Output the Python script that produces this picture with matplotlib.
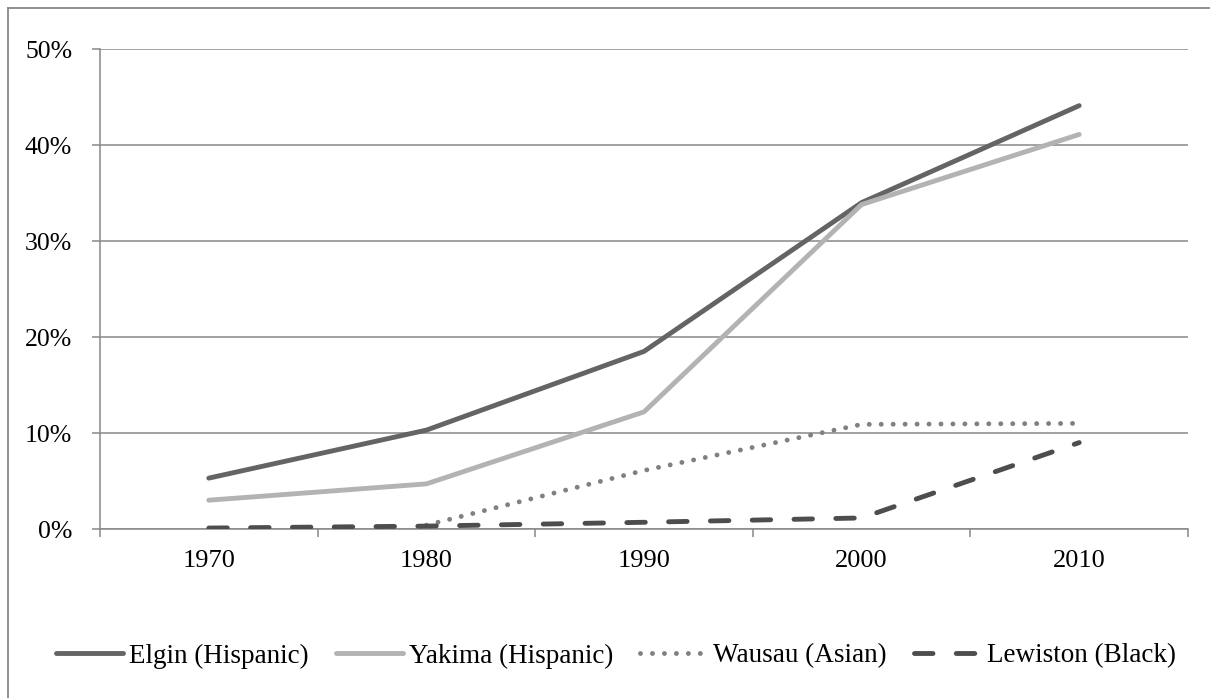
import matplotlib
matplotlib.use("Agg")
import matplotlib.pyplot as plt
import numpy as np
from matplotlib.lines import Line2D

years = ["1970", "1980", "1990", "2000", "2010"]
elgin = [5.3, 10.3, 18.5, 34.0, 44.1]
yakima = [3.0, 4.7, 12.2, 33.8, 41.1]
wausau = [np.nan, 0.4, 6.1, 10.9, 11.0]
lewiston = [0.1, 0.3, 0.7, 1.15, 9.0]
labels = ["Elgin (Hispanic)", "Yakima (Hispanic)", "Wausau (Asian)", "Lewiston (Black)"]
yticks = [0, 10, 20, 30, 40, 50]

plt.rcParams['font.family'] = ['Liberation Serif', 'DejaVu Serif']
fs_y = 18.5
fs_x = 19.0
fs_leg = 19.5
W, H = 1210, 698
fig = plt.figure(figsize=(W / 100, H / 100), dpi=100)
ax = fig.add_axes([100 / W, 1 - 529 / H, (1188 - 100) / W, (529 - 49) / H])

x = np.arange(len(years))
lw = 3.5
ax.plot(x, elgin, color="#646464", lw=lw, solid_capstyle="round", label=labels[0], zorder=3)
ax.plot(x, yakima, color="#b3b3b3", lw=lw, solid_capstyle="round", label=labels[1], zorder=3)
ax.plot(x, wausau, color="#808080", lw=lw, linestyle=(0, (0.01, 2.45)), dash_capstyle="round",
        label=labels[2], zorder=3)
ax.plot(x, lewiston, color="#4d4d4d", lw=lw, linestyle=(0, (3.8, 4.8)), dash_capstyle="round",
        label=labels[3], zorder=3)

ax.set_xlim(-0.5, len(years) - 0.5)
ax.set_ylim(0, 50)
ax.set_yticks(yticks)
ax.set_yticklabels([f"{v}%" for v in yticks], fontsize=fs_y)
ax.set_xticks(np.arange(-0.5, len(years), 1.0))
ax.set_xticklabels([])
ax.set_xticks(x, minor=True)
ax.set_xticklabels(years, minor=True, fontsize=fs_x)
ax.tick_params(axis="x", which="minor", length=0, pad=15)
ax.tick_params(axis="x", which="major", length=6, width=1.1, color="#888888", direction="out")
ax.tick_params(axis="y", length=6, width=1.1, color="#888888", direction="out", pad=14)
ax.yaxis.grid(True, color="#888888", lw=1.1)
ax.set_axisbelow(True)
for s in ["top", "right"]:
    ax.spines[s].set_visible(False)
for s in ["left", "bottom"]:
    ax.spines[s].set_color("#888888")
    ax.spines[s].set_linewidth(1.1)

leg = fig.legend(loc="center", bbox_to_anchor=(0.509, 1 - 656 / H), ncol=4, frameon=False,
                 fontsize=fs_leg, handlelength=2.5, handletextpad=0.2, columnspacing=1.0)

# outer frame (left and top edges visible)
fig.add_artist(Line2D([7.5 / W, 7.5 / W], [0, 1 - 7.5 / H], transform=fig.transFigure,
                      color="#888888", lw=1.3))
fig.add_artist(Line2D([7.5 / W, 1], [1 - 7.5 / H, 1 - 7.5 / H], transform=fig.transFigure,
                      color="#888888", lw=1.3))

fig.savefig("out.png", dpi=100)
